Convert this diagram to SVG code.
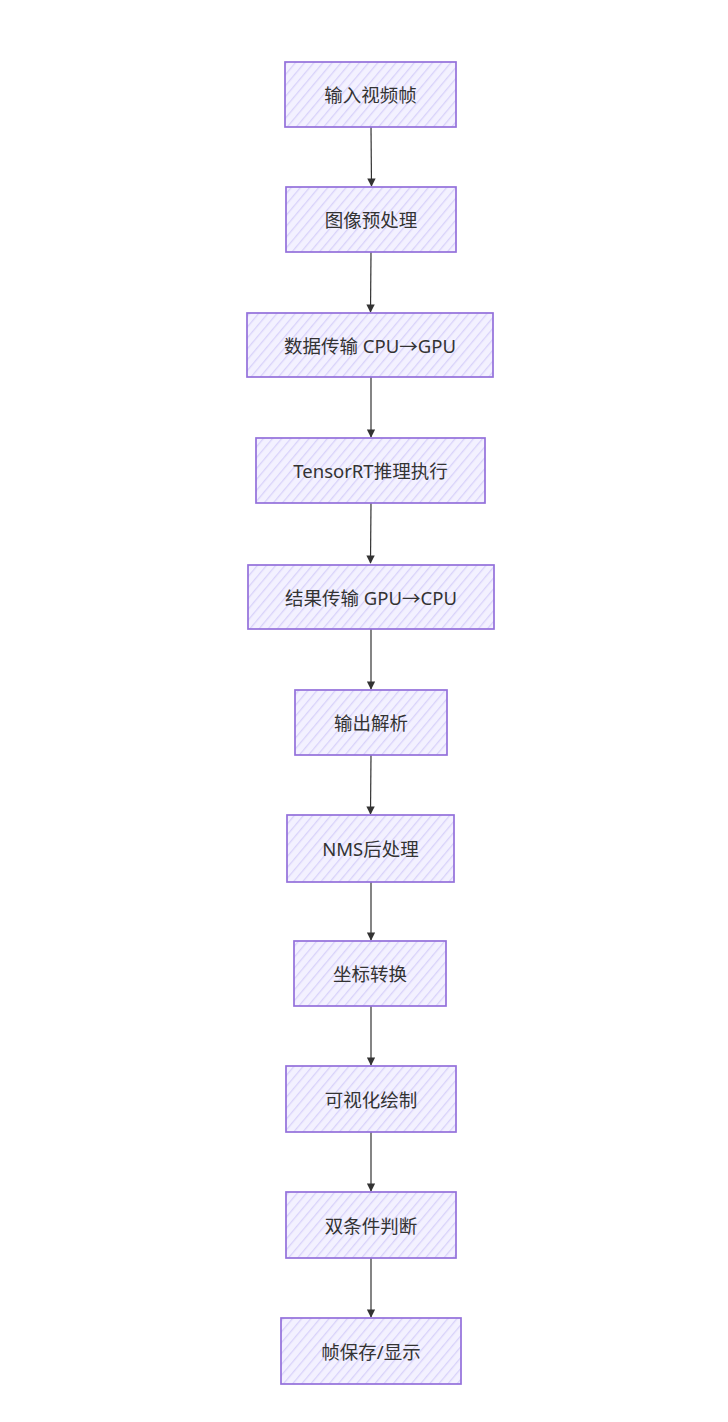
<svg xmlns="http://www.w3.org/2000/svg" width="728" height="1422" viewBox="0 0 728 1422">
<defs>
<pattern id="hatch" width="7" height="7" patternUnits="userSpaceOnUse" patternTransform="rotate(40)">
<rect width="7" height="7" fill="#f3f1ff"/>
<line x1="0" y1="0" x2="0" y2="7" stroke="#d8d2fa" stroke-width="2.6"/>
</pattern>
<marker id="arr" viewBox="0 0 10 10" refX="9" refY="5" markerWidth="7" markerHeight="7" orient="auto">
<path d="M0,0 L10,5 L0,10 z" fill="#333"/>
</marker>
<style>
.box{fill:url(#hatch);stroke:#9370db;stroke-width:1.7}
.lbl{font-family:"Noto Sans","Noto Sans CJK SC",sans-serif;font-size:18.5px;fill:#333;text-anchor:middle;dominant-baseline:central}
.edge{fill:none;stroke:#333;stroke-width:1.2;marker-end:url(#arr)}
</style>
</defs>
<rect width="728" height="1422" fill="#ffffff"/>
<g id="edges">
<path class="edge" d="M371,127 L371.5,186"/>
<path class="edge" d="M371,252 L370.5,312"/>
<path class="edge" d="M371,377 L371,437"/>
<path class="edge" d="M371,503 L370.5,563"/>
<path class="edge" d="M371,629 L371,689"/>
<path class="edge" d="M371,755 L370.5,814"/>
<path class="edge" d="M371,882 L371,940"/>
<path class="edge" d="M371,1006 L371,1065"/>
<path class="edge" d="M371,1132 L371,1191"/>
<path class="edge" d="M371,1258 L371,1317"/>
</g>
<g id="n1"><rect class="box" x="285" y="62" width="171" height="65"/><text class="lbl" x="370.5" y="94.5">输入视频帧</text></g>
<g id="n2"><rect class="box" x="286" y="187" width="170" height="65"/><text class="lbl" x="371" y="219.5">图像预处理</text></g>
<g id="n3"><rect class="box" x="247" y="313" width="246" height="64"/><text class="lbl" x="370" y="345">数据传输 CPU→GPU</text></g>
<g id="n4"><rect class="box" x="256" y="438" width="229" height="65"/><text class="lbl" x="370.5" y="470.5">TensorRT推理执行</text></g>
<g id="n5"><rect class="box" x="248" y="565" width="246" height="64"/><text class="lbl" x="371" y="597">结果传输 GPU→CPU</text></g>
<g id="n6"><rect class="box" x="295" y="690" width="152" height="65"/><text class="lbl" x="371" y="722.5">输出解析</text></g>
<g id="n7"><rect class="box" x="287" y="815" width="167" height="67"/><text class="lbl" x="370.5" y="848.5">NMS后处理</text></g>
<g id="n8"><rect class="box" x="294" y="941" width="152" height="65"/><text class="lbl" x="370" y="973.5">坐标转换</text></g>
<g id="n9"><rect class="box" x="286" y="1066" width="170" height="66"/><text class="lbl" x="371" y="1099">可视化绘制</text></g>
<g id="n10"><rect class="box" x="286" y="1192" width="170" height="66"/><text class="lbl" x="371" y="1225">双条件判断</text></g>
<g id="n11"><rect class="box" x="281" y="1318" width="180" height="66"/><text class="lbl" x="371" y="1351">帧保存/显示</text></g>
</svg>
